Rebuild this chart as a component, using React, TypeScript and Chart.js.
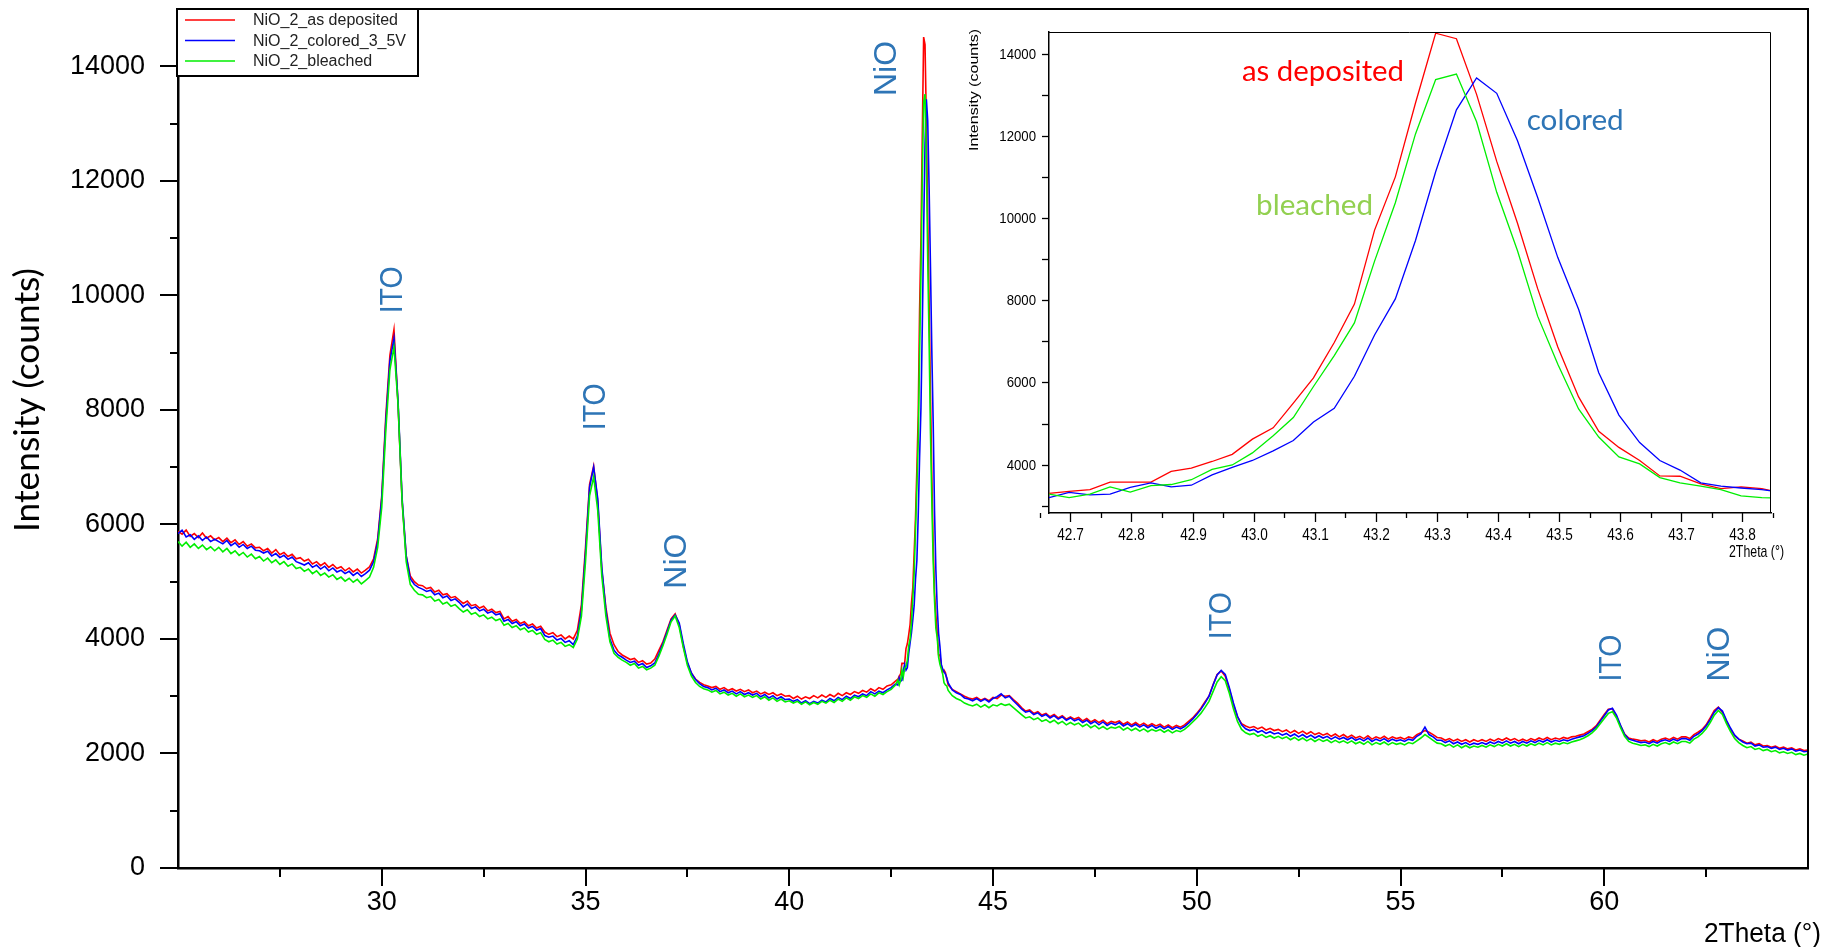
import React, { useEffect, useRef } from 'react';
import { Chart, registerables } from 'chart.js';

Chart.register(...registerables);

// ---------------- DATA ----------------
// main scan: segment A 25.0–42.6 (step 0.1), segment B 43.9–65.0 (step 0.1), NiO(200) region from fine scan
const STEP = 0.1;
const A_START = 25.0;
const B_START = 43.9;

const redA = [
  5880, 5830, 5900, 5790, 5840, 5770, 5850, 5760, 5800, 5730,
  5770, 5700, 5760, 5680, 5730, 5650, 5700, 5620, 5660, 5590,
  5600, 5540, 5580, 5500, 5560, 5470, 5510, 5440, 5480, 5400,
  5420, 5360, 5390, 5310, 5350, 5280, 5330, 5250, 5300, 5230,
  5260, 5190, 5240, 5170, 5220, 5150, 5200, 5260, 5400, 5750,
  6500, 7900, 8950, 9400, 8100, 6400, 5450, 5100, 5000, 4940,
  4930, 4880, 4900, 4820, 4850, 4770, 4790, 4720, 4740, 4680,
  4620, 4660, 4580, 4600, 4540, 4570, 4490, 4520, 4460, 4480,
  4350, 4390, 4310, 4340, 4270, 4300, 4230, 4260, 4190, 4220,
  4120, 4080, 4110, 4040, 4070, 4000, 4050, 4000, 4150, 4600,
  5600, 6700, 7020, 6400, 5200, 4550, 4100, 3900, 3780, 3720,
  3680, 3640, 3660, 3590, 3620, 3560, 3580, 3650, 3800, 3950,
  4150, 4350, 4440, 4250, 3870, 3580, 3400, 3300, 3240, 3200,
  3180, 3150, 3170, 3120, 3150, 3100, 3130, 3090, 3120, 3080,
  3110, 3060, 3090, 3040, 3070, 3030, 3060, 3010, 3040, 3000,
  3010, 2960, 3000, 2950, 2990, 2960, 3010, 2970, 3020, 2980,
  3030, 2990, 3050, 3010, 3060, 3030, 3080, 3050, 3100, 3070,
  3130, 3090, 3150, 3120, 3180, 3200, 3260,
];
const blueA = [
  5840, 5900, 5780, 5820, 5740, 5800, 5720, 5780, 5700, 5740,
  5700, 5660, 5720, 5630, 5680, 5600, 5650, 5580, 5620, 5550,
  5540, 5500, 5530, 5450, 5490, 5420, 5460, 5390, 5430, 5350,
  5320, 5290, 5330, 5250, 5290, 5220, 5270, 5190, 5240, 5170,
  5200, 5140, 5180, 5110, 5160, 5090, 5140, 5200, 5350, 5700,
  6450, 7800, 8850, 9250, 8150, 6450, 5450, 5050, 4950, 4900,
  4870, 4830, 4850, 4770, 4800, 4720, 4750, 4670, 4700, 4640,
  4560, 4610, 4530, 4560, 4490, 4520, 4450, 4480, 4420, 4440,
  4310, 4340, 4270, 4300, 4230, 4260, 4190, 4220, 4150, 4180,
  4060, 4030, 4050, 3980, 4010, 3940, 3970, 3900, 4050, 4500,
  5500, 6650, 7000, 6450, 5250, 4500, 4000, 3800, 3720, 3680,
  3630, 3590, 3610, 3540, 3570, 3500, 3530, 3580, 3740, 3920,
  4120, 4330, 4420, 4280, 3920, 3600, 3400, 3290, 3220, 3170,
  3150, 3110, 3140, 3080, 3110, 3060, 3090, 3040, 3080, 3030,
  3060, 3020, 3050, 2990, 3030, 2970, 3010, 2950, 2990, 2940,
  2950, 2910, 2940, 2880, 2920, 2870, 2910, 2880, 2930, 2900,
  2960, 2920, 2980, 2940, 3000, 2960, 3020, 2990, 3040, 3010,
  3080, 3040, 3090, 3060, 3110, 3150, 3210,
];
const greenA = [
  5700, 5620, 5690, 5600, 5660, 5580, 5640, 5560, 5610, 5540,
  5600, 5520, 5580, 5490, 5540, 5460, 5510, 5430, 5480, 5400,
  5440, 5360, 5410, 5330, 5380, 5300, 5350, 5270, 5310, 5230,
  5250, 5180, 5220, 5140, 5190, 5110, 5150, 5080, 5120, 5040,
  5080, 5010, 5060, 4990, 5040, 4960, 5020, 5080, 5250, 5600,
  6300, 7650, 8700, 9100, 8100, 6400, 5350, 4950, 4850, 4780,
  4770, 4720, 4740, 4660, 4690, 4610, 4640, 4570, 4600, 4530,
  4470, 4510, 4430, 4460, 4390, 4420, 4350, 4380, 4320, 4350,
  4240, 4270, 4200, 4230, 4160, 4190, 4120, 4150, 4080, 4110,
  3990, 3950, 3980, 3910, 3940, 3870, 3900, 3850, 4000, 4400,
  5350, 6500, 6830, 6250, 5100, 4400, 3950, 3750, 3680, 3630,
  3590, 3540, 3570, 3490, 3520, 3460, 3490, 3540, 3700, 3880,
  4080, 4300, 4400, 4200, 3850, 3540, 3350, 3240, 3170, 3130,
  3110, 3070, 3100, 3040, 3070, 3020, 3050, 3000, 3040, 2990,
  3020, 2980, 3010, 2950, 2990, 2930, 2970, 2910, 2950, 2900,
  2920, 2880, 2910, 2860, 2900, 2850, 2890, 2860, 2910, 2880,
  2930, 2890, 2950, 2910, 2970, 2930, 2990, 2960, 3010, 2980,
  3040, 3000, 3060, 3030, 3080, 3120, 3190,
];

const redB = [
  3200,
  3120, 3080, 3040, 3000, 2970, 2950, 2980, 2930, 2960, 2920,
  2980, 2960, 3020, 3000, 3010, 2940, 2880, 2800, 2740, 2760,
  2700, 2730, 2670, 2700, 2640, 2680, 2620, 2660, 2600, 2640,
  2600, 2630, 2570, 2610, 2550, 2590, 2540, 2580, 2520, 2560,
  2540, 2570, 2510, 2550, 2500, 2540, 2490, 2530, 2480, 2520,
  2480, 2510, 2460, 2500, 2450, 2490, 2460, 2500, 2560, 2620,
  2700, 2790, 2900, 3000, 3200, 3380, 3440, 3350, 3120, 2850,
  2640, 2520, 2480, 2450, 2470, 2430, 2460, 2410, 2440, 2400,
  2420, 2380, 2410, 2360, 2400, 2350, 2390, 2340, 2380, 2330,
  2360, 2320, 2350, 2300, 2340, 2290, 2330, 2280, 2320, 2270,
  2300, 2260, 2310, 2250, 2290, 2260, 2300, 2250, 2290, 2260,
  2280, 2250, 2290, 2270, 2330, 2360, 2400, 2370, 2330, 2280,
  2270, 2230, 2260, 2220, 2250, 2210, 2240, 2200, 2240, 2210,
  2240, 2210, 2250, 2220, 2260, 2230, 2270, 2230, 2260, 2220,
  2250, 2220, 2260, 2230, 2270, 2240, 2280, 2240, 2270, 2250,
  2280, 2260, 2290, 2300, 2320, 2340, 2380, 2420, 2480, 2580,
  2680, 2770, 2780, 2650, 2480, 2340, 2270, 2250, 2240, 2220,
  2230, 2200, 2240, 2210, 2250, 2270, 2240, 2280, 2250, 2290,
  2290, 2260, 2330, 2370, 2420, 2500, 2620, 2750, 2810, 2720,
  2560, 2420, 2310, 2250, 2220, 2180, 2200, 2150, 2170, 2130,
  2140, 2110, 2130, 2090, 2110, 2080, 2100, 2060, 2080, 2050,
  2060,
];
const blueB = [
  3230,
  3110, 3060, 3030, 2970, 2950, 2920, 2960, 2910, 2950, 2900,
  2960, 2990, 3040, 2970, 3000, 2920, 2850, 2780, 2720, 2740,
  2680, 2710, 2650, 2680, 2620, 2660, 2600, 2640, 2580, 2620,
  2570, 2600, 2540, 2580, 2520, 2560, 2500, 2550, 2490, 2530,
  2500, 2540, 2480, 2520, 2470, 2510, 2460, 2500, 2450, 2490,
  2440, 2480, 2430, 2470, 2420, 2460, 2430, 2470, 2530, 2600,
  2680, 2770, 2880, 3000, 3190, 3370, 3450, 3380, 3150, 2880,
  2650, 2500, 2430, 2400, 2420, 2370, 2400, 2350, 2380, 2340,
  2360, 2320, 2350, 2300, 2340, 2290, 2330, 2280, 2320, 2270,
  2310, 2270, 2300, 2250, 2290, 2250, 2280, 2240, 2280, 2230,
  2260, 2220, 2270, 2210, 2250, 2220, 2260, 2210, 2250, 2220,
  2240, 2210, 2250, 2230, 2300, 2340, 2460, 2330, 2290, 2230,
  2230, 2190, 2220, 2170, 2200, 2160, 2190, 2150, 2180, 2160,
  2190, 2160, 2200, 2170, 2210, 2180, 2220, 2180, 2210, 2170,
  2210, 2180, 2220, 2190, 2230, 2200, 2240, 2200, 2230, 2210,
  2240, 2220, 2250, 2270, 2290, 2310, 2350, 2400, 2460, 2560,
  2660, 2760, 2790, 2670, 2490, 2330, 2250, 2230, 2210, 2190,
  2200, 2170, 2210, 2180, 2220, 2240, 2210, 2250, 2220, 2260,
  2260, 2230, 2300, 2340, 2400, 2480, 2590, 2720, 2800, 2740,
  2580, 2440, 2320, 2250, 2200, 2170, 2180, 2130, 2150, 2110,
  2120, 2090, 2110, 2070, 2090, 2060, 2080, 2040, 2060, 2030,
  2040,
];
const greenB = [
  3100,
  3010, 2960, 2930, 2880, 2850, 2830, 2860, 2810, 2850, 2800,
  2850, 2830, 2870, 2840, 2860, 2800, 2740, 2680, 2620, 2640,
  2590, 2620, 2560, 2590, 2540, 2580, 2520, 2560, 2500, 2540,
  2500, 2530, 2470, 2510, 2450, 2490, 2430, 2470, 2420, 2460,
  2440, 2470, 2410, 2450, 2400, 2440, 2390, 2430, 2380, 2420,
  2390, 2420, 2370, 2410, 2360, 2400, 2380, 2420, 2480, 2550,
  2620, 2700, 2800, 2910, 3080, 3250, 3340, 3270, 3050, 2780,
  2560, 2420, 2360, 2330, 2350, 2300, 2330, 2280, 2310, 2270,
  2300, 2260, 2290, 2240, 2280, 2230, 2270, 2220, 2260, 2210,
  2250, 2210, 2240, 2190, 2230, 2190, 2220, 2180, 2220, 2170,
  2200, 2160, 2210, 2150, 2190, 2160, 2200, 2150, 2190, 2160,
  2180, 2150, 2190, 2170, 2220, 2270, 2330, 2280, 2230, 2180,
  2170, 2130, 2160, 2110, 2150, 2100, 2140, 2100, 2130, 2110,
  2140, 2110, 2150, 2120, 2160, 2130, 2170, 2130, 2160, 2120,
  2160, 2130, 2170, 2140, 2180, 2150, 2190, 2150, 2180, 2160,
  2190, 2170, 2200, 2220, 2240, 2270, 2310, 2360, 2430, 2520,
  2610, 2700, 2730, 2620, 2450, 2300, 2210, 2180, 2160, 2140,
  2150, 2120, 2160, 2130, 2170, 2190, 2160, 2200, 2170, 2210,
  2210, 2180, 2250, 2290, 2350, 2430, 2540, 2670, 2750, 2680,
  2520, 2380, 2260, 2190, 2140, 2100, 2120, 2070, 2090, 2050,
  2070, 2030, 2050, 2010, 2030, 2000, 2020, 1980, 2000, 1970,
  1990,
];

// fine scan around NiO (200)
const insetX = [
  42.665, 42.698, 42.732, 42.765, 42.798, 42.832, 42.865, 42.898, 42.932, 42.965,
  42.998, 43.032, 43.065, 43.098, 43.132, 43.165, 43.198, 43.232, 43.265, 43.298,
  43.332, 43.365, 43.398, 43.432, 43.465, 43.498, 43.532, 43.565, 43.598, 43.632,
  43.665, 43.698, 43.732, 43.765, 43.798, 43.832, 43.865,
];
const insetRed = [
  3296, 3347, 3388, 3573, 3573, 3573, 3832, 3915, 4075, 4250,
  4619, 4896, 5499, 6111, 6973, 7911, 9713, 11010, 12810, 14510,
  14377, 13021, 11387, 9881, 8287, 6864, 5649, 4811, 4418, 4100,
  3723, 3716, 3531, 3412, 3456, 3412, 3305,
];
const insetBlue = [
  3196, 3322, 3262, 3279, 3446, 3555, 3456, 3497, 3747, 3932,
  4100, 4335, 4585, 5037, 5372, 6152, 7158, 8037, 9460, 11136,
  12642, 13422, 13046, 11889, 10507, 9043, 7784, 6237, 5205, 4537,
  4100, 3866, 3555, 3473, 3429, 3388, 3322,
];
const insetGreen = [
  3279, 3196, 3279, 3456, 3330, 3488, 3514, 3631, 3883, 3990,
  4284, 4702, 5146, 5902, 6655, 7452, 8958, 10381, 12057, 13381,
  13514, 12351, 10634, 9210, 7617, 6446, 5355, 4670, 4185, 4017,
  3682, 3555, 3473, 3388, 3237, 3196, 3179,
];

const seriesNames = ['NiO_2_as deposited', 'NiO_2_colored_3_5V', 'NiO_2_bleached'];
const seriesColors = ['#ff0000', '#0000ff', '#00ee00'];

// axis tick values
const mainYTicks = [0, 2000, 4000, 6000, 8000, 10000, 12000, 14000];
const mainXTicks = [30, 35, 40, 45, 50, 55, 60];

// peak annotations (2θ, counts)
const peakLabels = [
  { text: 'ITO', x: 30.28, y: 10096 },
  { text: 'ITO', x: 35.27, y: 8054 },
  { text: 'NiO', x: 37.26, y: 5358 },
  { text: 'NiO', x: 42.40, y: 13962 },
  { text: 'ITO', x: 50.63, y: 4407 },
  { text: 'ITO', x: 60.19, y: 3665 },
  { text: 'NiO', x: 62.84, y: 3735 },
];
// inset annotations (2θ, counts) at left/baseline
const insetLabels = [
  { text: 'as deposited', x: 42.981, y: 13356, color: '#ff0000', w: 162 },
  { text: 'colored', x: 43.447, y: 12149, color: '#2e75b6', w: 97 },
  { text: 'bleached', x: 43.004, y: 10090, color: '#92d050', w: 117 },
];

// ---------------- helpers ----------------
const ARIAL = '"Liberation Sans", Arial, sans-serif';
const CALIBRI = 'Lato, "Open Sans", sans-serif';

function buildPoints(a: number[], ins: number[], b: number[]) {
  const pts: { x: number; y: number }[] = [];
  a.forEach((v, i) => pts.push({ x: +(A_START + i * STEP).toFixed(2), y: v }));
  ins.forEach((v, i) => pts.push({ x: insetX[i], y: v }));
  b.forEach((v, i) => pts.push({ x: +(B_START + i * STEP).toFixed(2), y: v }));
  return pts;
}

function fitText(
  ctx: CanvasRenderingContext2D,
  text: string,
  x: number,
  y: number,
  font: string,
  color: string,
  o: { align?: CanvasTextAlign; baseline?: CanvasTextBaseline; rot?: number; width?: number; sx?: number } = {}
) {
  ctx.save();
  ctx.translate(x, y);
  if (o.rot) ctx.rotate(o.rot);
  ctx.font = font;
  const w = ctx.measureText(text).width;
  const s = o.width ? o.width / w : o.sx ?? 1;
  ctx.scale(s, 1);
  ctx.textAlign = o.align ?? 'left';
  ctx.textBaseline = o.baseline ?? 'alphabetic';
  ctx.fillStyle = color;
  ctx.fillText(text, 0, 0);
  ctx.restore();
}

function seg(ctx: CanvasRenderingContext2D, x1: number, y1: number, x2: number, y2: number) {
  ctx.beginPath();
  ctx.moveTo(x1, y1);
  ctx.lineTo(x2, y2);
  ctx.stroke();
}

const mainDecor = {
  id: 'mainDecor',
  afterDraw(chart: any) {
    const { ctx, chartArea: a, scales } = chart;
    const xs = scales.x;
    const ys = scales.y;
    ctx.save();
    ctx.strokeStyle = '#000';
    ctx.lineWidth = 2;
    // frame top & right
    ctx.beginPath();
    ctx.moveTo(a.left, a.top);
    ctx.lineTo(a.right, a.top);
    ctx.lineTo(a.right, a.bottom);
    ctx.stroke();
    // y ticks (minor every 1000)
    for (let v = 0; v <= 14000; v += 1000) {
      const py = Math.round(ys.getPixelForValue(v));
      const len = v % 2000 === 0 ? 18 : 8;
      seg(ctx, a.left - len, py, a.left, py);
    }
    mainYTicks.forEach((v) => {
      fitText(ctx, String(v), 145, ys.getPixelForValue(v), `27px ${ARIAL}`, '#000', {
        align: 'right',
        baseline: 'middle',
      });
    });
    // x ticks
    for (let i = 11; i <= 25; i++) {
      const v = i * 2.5;
      const px = Math.round(xs.getPixelForValue(v));
      const len = i % 2 === 0 ? 18 : 9;
      seg(ctx, px, a.bottom, px, a.bottom + len);
    }
    mainXTicks.forEach((v) => {
      fitText(ctx, String(v), xs.getPixelForValue(v), a.bottom + 35, `27px ${ARIAL}`, '#000', {
        align: 'center',
        baseline: 'middle',
      });
    });
    // axis titles
    fitText(ctx, 'Intensity (counts)', 28, 400, `35px ${CALIBRI}`, '#000', {
      align: 'center',
      baseline: 'middle',
      rot: -Math.PI / 2,
      width: 264,
    });
    fitText(ctx, '2Theta (°)', 1704, 942, `27px ${ARIAL}`, '#000', { align: 'left', width: 117 });
    // peak labels
    peakLabels.forEach((p) => {
      const px = xs.getPixelForValue(p.x);
      const py = ys.getPixelForValue(p.y);
      fitText(ctx, p.text, px, py, `32px ${ARIAL}`, '#2e75b6', {
        align: 'center',
        baseline: 'middle',
        rot: -Math.PI / 2,
        width: p.text === 'ITO' ? 47 : 55,
      });
    });
    // legend
    ctx.fillStyle = '#fff';
    ctx.fillRect(177, 9, 241, 67);
    ctx.lineWidth = 2;
    ctx.strokeStyle = '#000';
    ctx.strokeRect(177, 9, 241, 67);
    const ly = [20, 40.5, 61];
    seriesNames.forEach((n, i) => {
      ctx.strokeStyle = seriesColors[i];
      ctx.lineWidth = 1.5;
      seg(ctx, 185, ly[i], 235, ly[i]);
      fitText(ctx, n, 253, ly[i] + 1, `16px ${ARIAL}`, '#222', { baseline: 'middle' });
    });
    ctx.restore();
  },
};

const insetDecor = {
  id: 'insetDecor',
  afterDraw(chart: any) {
    const { ctx, chartArea: a, scales } = chart;
    const xs = scales.x;
    const ys = scales.y;
    ctx.save();
    ctx.strokeStyle = '#000';
    ctx.lineWidth = 1;
    ctx.beginPath();
    ctx.moveTo(a.left, a.top + 0.5);
    ctx.lineTo(a.right - 0.5, a.top + 0.5);
    ctx.lineTo(a.right - 0.5, a.bottom);
    ctx.stroke();
    ctx.lineWidth = 1.3;
    // x ticks
    for (let i = 853; i <= 877; i++) {
      const v = i / 20;
      const px = Math.round(xs.getPixelForValue(v)) + 0.5;
      const major = i % 2 === 0;
      seg(ctx, px, a.bottom, px, a.bottom + (major ? 9 : 5));
      if (major) {
        fitText(ctx, v.toFixed(1), px, a.bottom + 22, `17px ${ARIAL}`, '#000', {
          align: 'center',
          baseline: 'middle',
          sx: 0.8,
        });
      }
    }
    // y ticks
    for (let v = 3000; v <= 14000; v += 1000) {
      const py = Math.round(ys.getPixelForValue(v)) + 0.5;
      seg(ctx, a.left - 7, py, a.left, py);
      if (v % 2000 === 0) {
        fitText(ctx, String(v), a.left - 13, py, `15px ${ARIAL}`, '#000', {
          align: 'right',
          baseline: 'middle',
          sx: 0.88,
        });
      }
    }
    fitText(ctx, 'Intensity (counts)', 34, 75, `13px ${ARIAL}`, '#000', {
      align: 'center',
      baseline: 'middle',
      rot: -Math.PI / 2,
      width: 122,
    });
    fitText(ctx, '2Theta (°)', 789, 537, `17px ${ARIAL}`, '#000', { baseline: 'middle', width: 55 });
    insetLabels.forEach((l) => {
      fitText(ctx, l.text, xs.getPixelForValue(l.x), ys.getPixelForValue(l.y), `29px ${CALIBRI}`, l.color, {
        width: l.w,
      });
    });
    ctx.restore();
  },
};

export default function App() {
  const mainRef = useRef<HTMLCanvasElement>(null);
  const insetRef = useRef<HTMLCanvasElement>(null);

  useEffect(() => {
    const mainSets = [
      buildPoints(redA, insetRed, redB),
      buildPoints(blueA, insetBlue, blueB),
      buildPoints(greenA, insetGreen, greenB),
    ];
    const main = new Chart(mainRef.current as HTMLCanvasElement, {
      type: 'line',
      data: {
        datasets: mainSets.map((d, i) => ({
          label: seriesNames[i],
          data: d,
          borderColor: seriesColors[i],
          borderWidth: 1.6,
          pointRadius: 0,
          tension: 0,
          fill: false,
          order: 2 - i,
        })),
      },
      options: {
        animation: false,
        responsive: false,
        maintainAspectRatio: false,
        devicePixelRatio: 1,
        layout: { padding: { left: 0, right: 17, top: 9, bottom: 0 } },
        plugins: { legend: { display: false }, tooltip: { enabled: false } },
        scales: {
          x: {
            type: 'linear',
            min: 25,
            max: 65,
            afterFit: (s: any) => {
              s.height = 79;
            },
            grid: { display: false, drawTicks: false },
            border: { display: true, color: '#000', width: 2.5 },
            ticks: { display: false },
          },
          y: {
            type: 'linear',
            min: 0,
            max: 15000,
            afterFit: (s: any) => {
              s.width = 178;
            },
            grid: { display: false, drawTicks: false },
            border: { display: true, color: '#000', width: 2.5 },
            ticks: { display: false },
          },
        },
      },
      plugins: [mainDecor],
    } as any);

    const inset = new Chart(insetRef.current as HTMLCanvasElement, {
      type: 'line',
      data: {
        datasets: [insetRed, insetBlue, insetGreen].map((arr, i) => ({
          label: seriesNames[i],
          data: arr.map((v, k) => ({ x: insetX[k], y: v })),
          borderColor: seriesColors[i],
          borderWidth: 1.3,
          pointRadius: 0,
          tension: 0,
          fill: false,
          order: 2 - i,
        })),
      },
      options: {
        animation: false,
        responsive: false,
        maintainAspectRatio: false,
        devicePixelRatio: 1,
        layout: { padding: { left: 0, right: 29, top: 17, bottom: 0 } },
        plugins: { legend: { display: false }, tooltip: { enabled: false } },
        scales: {
          x: {
            type: 'linear',
            min: 42.665,
            max: 43.847,
            afterFit: (s: any) => {
              s.height = 62;
            },
            grid: { display: false, drawTicks: false },
            border: { display: true, color: '#000', width: 1.5 },
            ticks: { display: false },
          },
          y: {
            type: 'linear',
            min: 2820,
            max: 14540,
            afterFit: (s: any) => {
              s.width = 109;
            },
            grid: { display: false, drawTicks: false },
            border: { display: true, color: '#000', width: 1.5 },
            ticks: { display: false },
          },
        },
      },
      plugins: [insetDecor],
    } as any);

    let alive = true;
    const fonts: any = (document as any).fonts;
    if (fonts && fonts.load) {
      Promise.all([fonts.load(`35px ${CALIBRI}`), fonts.load(`27px ${ARIAL}`)])
        .then(() => {
          if (alive) {
            main.draw();
            inset.draw();
          }
        })
        .catch(() => {});
    }
    return () => {
      alive = false;
      main.destroy();
      inset.destroy();
    };
  }, []);

  return (
    <div style={{ position: 'fixed', left: 0, top: 0, width: 1825, height: 947, background: '#fff' }}>
      <canvas
        ref={mainRef}
        width={1825}
        height={947}
        style={{ position: 'absolute', left: 0, top: 0, width: 1825, height: 947 }}
      />
      <canvas
        ref={insetRef}
        width={860}
        height={560}
        style={{ position: 'absolute', left: 940, top: 15, width: 860, height: 560 }}
      />
    </div>
  );
}
